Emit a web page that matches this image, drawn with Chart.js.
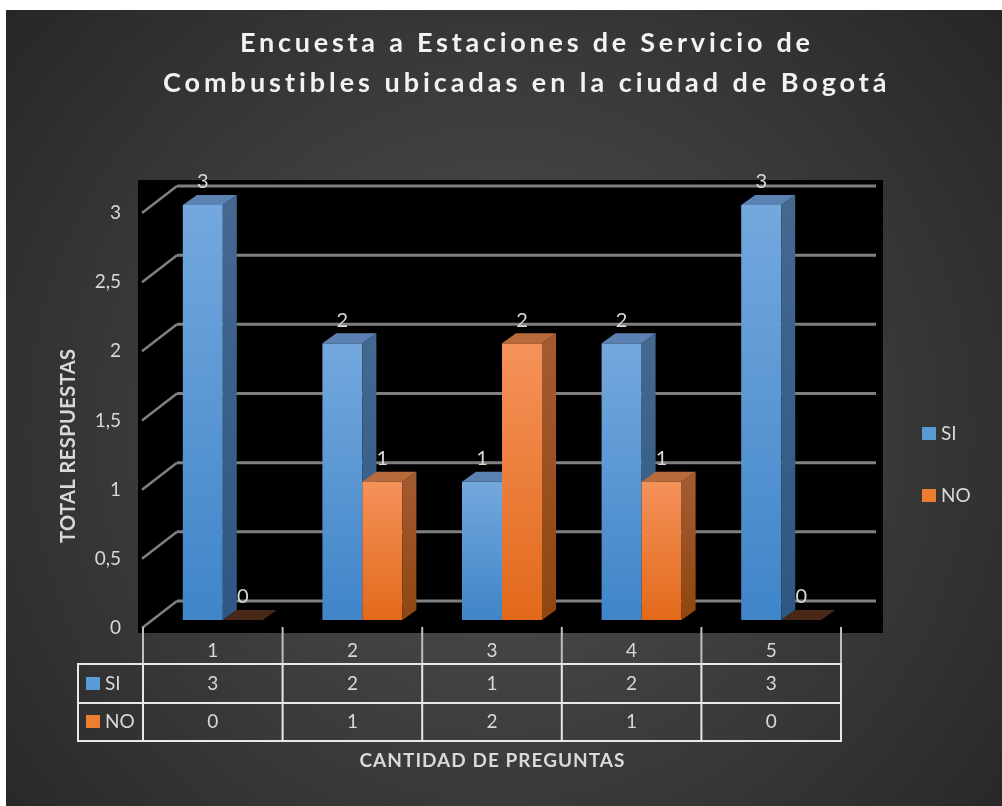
<!DOCTYPE html>
<html>
<head>
<meta charset="utf-8">
<script src="https://cdn.jsdelivr.net/npm/chart.js@4.4.0/dist/chart.umd.min.js"></script>
<style>
  html, body { margin: 0; padding: 0; background: #fff; }
  canvas { display: block; }
</style>
</head>
<body>
<canvas id="myChart" width="1002" height="806"></canvas>
<script>
const ctx = document.getElementById("myChart").getContext("2d");

// data
const labels = ["1", "2", "3", "4", "5"];
const siValues = [3, 2, 1, 2, 3];
const noValues = [0, 1, 2, 1, 0];
const yTicks = [0, 0.5, 1, 1.5, 2, 2.5, 3];
const yTickLabels = ["0", "0,5", "1", "1,5", "2", "2,5", "3"];
const titleLines = ["Encuesta a Estaciones de Servicio de", "Combustibles ubicadas en la ciudad de Bogotá"];

const FONT = "Lato, 'Open Sans', sans-serif";
const TXT = "#d9d9d9";

// bar colours: front gradient top/bottom, side, top face
const palette = [
  { front: ["#74a8de", "#3f85c8"], side: ["#44698f", "#2e5783"], top: "#5b82b3", key: "#5b9bd5" },
  { front: ["#f5925b", "#e2691a"], side: ["#a45a30", "#8f460f"], top: "#b96a3d", key: "#ed7d31" },
];

// 3d depth of a bar, and shift of the bar row (bars sit mid-depth)
const DX = 14, DY = 10, SHIFT = 10;

// stretch text to a target width with letter spacing
function fitText(c, text, cx, y, w) {
  c.letterSpacing = "0px";
  const m = c.measureText(text).width;
  const sp = (w - m) / (text.length - 1);
  c.letterSpacing = sp + "px";
  c.textAlign = "left";
  c.fillText(text, cx - w / 2, y);
  c.letterSpacing = "0px";
}

const decor = {
  id: "decor",
  beforeDraw(chart) {
    const c = chart.ctx;
    const xs = chart.scales.x, ys = chart.scales.y;
    c.save();
    c.fillStyle = "#fff";
    c.fillRect(0, 0, 1002, 806);
    let bg = c.createRadialGradient(500, 430, 0, 500, 430, 660);
    bg.addColorStop(0, "#525252");
    bg.addColorStop(1, "#262626");
    c.fillStyle = bg;
    c.fillRect(6, 10, 996, 796);

    // title
    c.fillStyle = "#f2f2f2";
    c.font = "bold 27px " + FONT;
    c.textBaseline = "alphabetic";
    fitText(c, titleLines[0], 525, 52, 570);
    fitText(c, titleLines[1], 525, 92, 724);

    // plot back
    c.fillStyle = "#000";
    c.fillRect(138, 180, 745, 453);

    // gridlines: back wall + side diagonal
    c.strokeStyle = "#808080";
    yTicks.forEach((v) => {
      const yb = ys.getPixelForValue(v);
      c.lineWidth = 3;
      c.beginPath();
      c.moveTo(177, yb - 19);
      c.lineTo(876, yb - 19);
      c.stroke();
      c.lineWidth = 2.5;
      c.beginPath();
      c.moveTo(142, yb + 8);
      c.lineTo(177, yb - 19);
      c.stroke();
    });

    // y tick labels
    c.fillStyle = TXT;
    c.font = "19px " + FONT;
    c.textAlign = "right";
    c.textBaseline = "middle";
    yTicks.forEach((v, i) => {
      c.fillText(yTickLabels[i], 121, ys.getPixelForValue(v) + 8);
    });

    // data table
    const step = xs.getPixelForValue(1) - xs.getPixelForValue(0);
    const x0 = xs.getPixelForValue(0) - step / 2;
    const xEnd = x0 + step * labels.length;
    c.strokeStyle = "#bfbfbf";
    c.lineWidth = 2;
    for (let i = 0; i <= labels.length; i++) {
      c.beginPath();
      c.moveTo(x0 + i * step, 627);
      c.lineTo(x0 + i * step, 664);
      c.stroke();
    }
    c.strokeStyle = "#e8e8e8";
    [664, 703, 741].forEach((y) => {
      c.beginPath();
      c.moveTo(78, y);
      c.lineTo(xEnd, y);
      c.stroke();
    });
    [78].concat(labels.map((_, i) => x0 + i * step), [xEnd]).forEach((x) => {
      c.beginPath();
      c.moveTo(x, 663);
      c.lineTo(x, 742);
      c.stroke();
    });

    c.fillStyle = TXT;
    c.font = "19px " + FONT;
    c.textAlign = "center";
    labels.forEach((l, i) => {
      const cx = xs.getPixelForValue(i);
      c.fillText(l, cx, 651);
      c.fillText(String(siValues[i]), cx, 684);
      c.fillText(String(noValues[i]), cx, 722);
    });
    // row keys
    c.textAlign = "left";
    c.fillStyle = palette[0].key;
    c.fillRect(86, 677, 14, 13);
    c.fillStyle = palette[1].key;
    c.fillRect(86, 715, 14, 13);
    c.fillStyle = TXT;
    c.fillText("SI", 105, 684);
    c.fillText("NO", 105, 722);

    // right legend
    c.fillStyle = palette[0].key;
    c.fillRect(922, 427, 14, 13);
    c.fillStyle = palette[1].key;
    c.fillRect(922, 489, 14, 13);
    c.fillStyle = TXT;
    c.fillText("SI", 941, 434);
    c.fillText("NO", 941, 496);

    // axis titles
    c.font = "bold 19px " + FONT;
    fitText(c, "CANTIDAD DE PREGUNTAS", 492, 761, 265);
    c.save();
    c.translate(69, 446);
    c.rotate(-Math.PI / 2);
    c.font = "bold 20px " + FONT;
    fitText(c, "TOTAL RESPUESTAS", 0, 0, 194);
    c.restore();
    c.restore();
  },
  afterDatasetsDraw(chart) {
    const c = chart.ctx;
    c.save();
    chart.data.datasets.forEach((ds, di) => {
      const meta = chart.getDatasetMeta(di);
      const p = palette[di];
      meta.data.forEach((bar, i) => {
        const l = bar.x + SHIFT - bar.width / 2, r = bar.x + SHIFT + bar.width / 2;
        const t = bar.y, b = bar.base;
        if (ds.data[i] === 0) {
          c.fillStyle = "#4a2817";
          c.beginPath();
          c.moveTo(l, b); c.lineTo(l + DX, b - DY); c.lineTo(r + DX, b - DY); c.lineTo(r, b);
          c.closePath(); c.fill();
          return;
        }
        let g = c.createLinearGradient(0, t, 0, b);
        g.addColorStop(0, p.front[0]);
        g.addColorStop(1, p.front[1]);
        c.fillStyle = g;
        c.fillRect(l, t, r - l, b - t);
        g = c.createLinearGradient(0, t, 0, b);
        g.addColorStop(0, p.side[0]);
        g.addColorStop(1, p.side[1]);
        c.fillStyle = g;
        c.beginPath();
        c.moveTo(r, t); c.lineTo(r + DX, t - DY); c.lineTo(r + DX, b - DY); c.lineTo(r, b);
        c.closePath(); c.fill();
        c.fillStyle = p.top;
        c.beginPath();
        c.moveTo(l, t); c.lineTo(l + DX, t - DY); c.lineTo(r + DX, t - DY); c.lineTo(r, t);
        c.closePath(); c.fill();
      });
    });
    // value labels
    c.fillStyle = TXT;
    c.font = "20px " + FONT;
    c.textAlign = "center";
    c.textBaseline = "middle";
    chart.data.datasets.forEach((ds, di) => {
      chart.getDatasetMeta(di).data.forEach((bar, i) => {
        c.fillText(String(ds.data[i]), bar.x + SHIFT, bar.y - 23);
      });
    });
    c.restore();
  },
};

const data = {
  labels,
  datasets: [
    { label: "SI", data: siValues, backgroundColor: "transparent" },
    { label: "NO", data: noValues, backgroundColor: "transparent" },
  ],
};

const config = {
  type: "bar",
  data: data,
  options: {
    responsive: false,
    animation: false,
    devicePixelRatio: 1,
    layout: { padding: { left: 143, right: 161, top: 205, bottom: 186 } },
    datasets: { bar: { categoryPercentage: 0.573, barPercentage: 1 } },
    plugins: { legend: { display: false }, title: { display: false }, tooltip: { enabled: false } },
    scales: {
      x: { display: false },
      y: { display: false, min: 0, max: 3 },
    },
  },
  plugins: [decor],
};

const myChart = new Chart(ctx, config);
</script>
</body>
</html>
